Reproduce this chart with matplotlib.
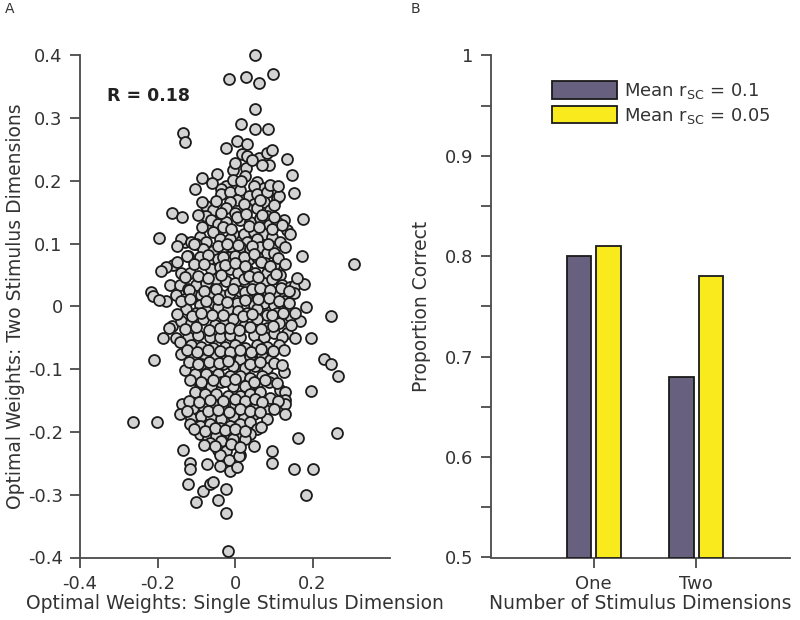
import matplotlib
matplotlib.use("Agg")
import matplotlib.pyplot as plt
from matplotlib.patches import Patch
from matplotlib.ticker import MultipleLocator

plt.rcParams['font.family'] = ['DejaVu Sans']
plt.rcParams['axes.unicode_minus'] = False
plt.rcParams['mathtext.fontset'] = 'dejavusans'

# ---------------- Panel A data ----------------
w_single = [
    # top outliers
    0.052, -0.015, 0.028, 0.061, 0.097, 0.052, 0.015, 0.052, 0.085, -0.134, -0.128,
    # 0.20 .. 0.26
    -0.023, 0.006, 0.030, 0.017, 0.032, 0.061, 0.082, 0.095, 0.134, 0.089, 0.029,
    -0.004, -0.046, 0.147, 0.026, 0.056, 0.074, 0.048, -0.022, -0.004, -0.035, -0.084,
    # 0.15 .. 0.20
    -0.035, -0.013, 0.013, 0.035, 0.056, 0.082, 0.108, 0.113, 0.004, -0.013, 0.048,
    0.074, -0.074, -0.056, -0.022, 0.000, 0.030, 0.056, 0.091, 0.082, 0.126, 0.152,
    -0.102, -0.162, -0.136,
    # 0.10 .. 0.15
    -0.074, -0.061, -0.043, -0.022, 0.013, 0.039, 0.065, 0.087, 0.108, 0.134, 0.143,
    0.176, -0.056, -0.030, -0.004, 0.022, 0.048, 0.074, 0.095, 0.117, -0.091, -0.074,
    -0.039, -0.013, 0.030, 0.056, -0.130, -0.195, -0.139, -0.113, -0.100,
    # 0.05 .. 0.10
    -0.082, -0.056, -0.030, -0.004, 0.013, 0.039, 0.065, 0.082, 0.100, -0.091, -0.121,
    -0.069, -0.043, -0.013, 0.013, 0.035, 0.056, 0.078, 0.100, 0.173, -0.061, -0.039,
    -0.013, 0.009, 0.030, 0.052, 0.082, 0.117, -0.139, -0.160, -0.177, -0.190, -0.117,
    0.307,
    # 0.00 .. 0.05
    -0.169, -0.143, -0.121, -0.100, -0.074, -0.048, -0.022, 0.000, 0.022, 0.048, 0.074,
    0.095, 0.121, 0.143, 0.156, 0.179, -0.216, -0.212, -0.177, -0.152, -0.130, -0.108,
    -0.087, -0.061, -0.035, -0.013, 0.013, 0.035, 0.056, 0.082, 0.104, 0.130, 0.152,
    -0.091, -0.056, 0.004, 0.048, 0.074, 0.100, 0.126,
    # -0.05 .. 0.00
    -0.126, -0.100, -0.074, -0.043, -0.017, 0.009, 0.030, 0.056, 0.082, 0.108, 0.143,
    0.169, 0.184, 0.247, -0.162, -0.139, -0.113, -0.082, -0.052, -0.026, -0.004, 0.022,
    0.056, 0.082, 0.113, 0.134, 0.156, -0.152, -0.121, -0.095, -0.065, -0.039, -0.013,
    0.013, 0.048, 0.074, 0.100, 0.121, -0.186, 0.195,
    # -0.10 .. -0.05
    -0.143, -0.113, -0.087, -0.056, -0.026, 0.000, 0.026, 0.056, 0.082, 0.113, 0.126,
    -0.139, -0.108, -0.078, -0.048, -0.013, 0.013, 0.039, 0.069, 0.091, -0.087, -0.056,
    -0.030, -0.004, 0.026, 0.052, 0.082, -0.130, -0.208, 0.229, 0.247, 0.266,
    # -0.15 .. -0.10
    -0.104, -0.074, -0.043, -0.013, 0.013, 0.039, 0.069, 0.095, 0.126, -0.091, -0.061,
    -0.035, -0.004, 0.026, 0.056, 0.087, 0.117, 0.130, -0.104, -0.078, -0.048, -0.017,
    0.013, 0.039, 0.065, 0.091, 0.130, 0.197,
    # -0.20 .. -0.15
    -0.136, -0.108, -0.082, -0.056, -0.030, 0.000, 0.026, 0.052, 0.078, 0.130, -0.143,
    -0.113, -0.087, -0.061, -0.035, -0.004, 0.022, 0.048, 0.130, -0.117, -0.091, -0.065,
    -0.039, -0.013, 0.013, 0.039, 0.082, 0.056, -0.264, -0.202, 0.264,
    # -0.25 .. -0.20
    -0.091, -0.069, -0.048, -0.013, 0.013, 0.039, -0.065, -0.035, -0.004, 0.026, -0.043,
    -0.022, 0.013, 0.050, 0.095, 0.163, -0.134, -0.039, 0.095, -0.117, -0.015,
    # lower tail
    -0.115, -0.121, -0.100, -0.082, -0.065, -0.056, -0.043, -0.022, -0.019, -0.039, -0.013,
    0.006, 0.011, -0.072, -0.023, 0.152, 0.202, 0.184,
]
w_two = [
    # top outliers
    0.400, 0.362, 0.365, 0.356, 0.370, 0.315, 0.290, 0.283, 0.283, 0.277, 0.262,
    # 0.20 .. 0.26
    0.252, 0.264, 0.258, 0.242, 0.239, 0.236, 0.245, 0.249, 0.235, 0.226, 0.220,
    0.218, 0.211, 0.209, 0.208, 0.198, 0.189, 0.192, 0.192, 0.201, 0.187, 0.204,
    # 0.15 .. 0.20
    0.179, 0.182, 0.185, 0.176, 0.179, 0.182, 0.173, 0.176, 0.170, 0.167, 0.163,
    0.167, 0.160, 0.154, 0.157, 0.148, 0.157, 0.157, 0.154, 0.144, 0.138, 0.180,
    0.187, 0.149, 0.143,
    # 0.10 .. 0.15
    0.144, 0.138, 0.132, 0.135, 0.138, 0.135, 0.141, 0.129, 0.135, 0.122, 0.116,
    0.139, 0.119, 0.126, 0.116, 0.116, 0.119, 0.116, 0.110, 0.103, 0.110, 0.103,
    0.107, 0.107, 0.103, 0.107, 0.103, 0.109, 0.107, 0.103, 0.100,
    # 0.05 .. 0.10
    0.091, 0.088, 0.094, 0.091, 0.094, 0.091, 0.094, 0.085, 0.085, 0.078, 0.081,
    0.072, 0.075, 0.078, 0.072, 0.075, 0.078, 0.069, 0.066, 0.081, 0.059, 0.062,
    0.059, 0.053, 0.059, 0.053, 0.053, 0.050, 0.053, 0.066, 0.062, 0.056, 0.053,
    0.067,
    # 0.00 .. 0.05
    0.034, 0.034, 0.028, 0.034, 0.037, 0.044, 0.040, 0.037, 0.044, 0.040, 0.037,
    0.044, 0.034, 0.031, 0.034, 0.035, 0.023, 0.016, 0.009, 0.018, 0.012, 0.018,
    0.018, 0.021, 0.018, 0.021, 0.025, 0.021, 0.018, 0.025, 0.018, 0.018, 0.021,
    0.003, 0.006, 0.006, 0.003, 0.006, 0.003, 0.009,
    # -0.05 .. 0.00
    -0.004, -0.010, -0.007, -0.001, -0.004, -0.007, -0.010, -0.004, -0.013, -0.010, -0.016,
    -0.023, -0.001, -0.015, -0.032, -0.023, -0.026, -0.020, -0.029, -0.026, -0.020, -0.032,
    -0.020, -0.035, -0.026, -0.042, -0.051, -0.051, -0.048, -0.045, -0.048, -0.048, -0.045,
    -0.048, -0.045, -0.048, -0.042, -0.048, -0.050, -0.050,
    # -0.10 .. -0.05
    -0.057, -0.061, -0.064, -0.067, -0.064, -0.061, -0.067, -0.061, -0.064, -0.061, -0.070,
    -0.076, -0.079, -0.083, -0.079, -0.076, -0.083, -0.079, -0.079, -0.086, -0.092, -0.095,
    -0.092, -0.095, -0.098, -0.095, -0.098, -0.102, -0.085, -0.084, -0.091, -0.111,
    # -0.15 .. -0.10
    -0.108, -0.108, -0.108, -0.111, -0.111, -0.114, -0.111, -0.114, -0.105, -0.124, -0.127,
    -0.121, -0.127, -0.127, -0.124, -0.121, -0.133, -0.136, -0.136, -0.139, -0.139, -0.143,
    -0.143, -0.139, -0.136, -0.146, -0.149, -0.135,
    # -0.20 .. -0.15
    -0.155, -0.162, -0.158, -0.155, -0.162, -0.155, -0.158, -0.162, -0.165, -0.155, -0.171,
    -0.177, -0.174, -0.177, -0.180, -0.174, -0.177, -0.171, -0.171, -0.187, -0.190, -0.187,
    -0.193, -0.190, -0.187, -0.184, -0.180, -0.196, -0.184, -0.184, -0.201,
    # -0.25 .. -0.20
    -0.203, -0.209, -0.206, -0.203, -0.206, -0.203, -0.218, -0.215, -0.212, -0.212, -0.228,
    -0.231, -0.237, -0.223, -0.230, -0.210, -0.228, -0.237, -0.249, -0.250, -0.244,
    # lower tail
    -0.259, -0.283, -0.312, -0.294, -0.283, -0.280, -0.308, -0.329, -0.389, -0.255, -0.262,
    -0.256, -0.238, -0.251, -0.291, -0.259, -0.259, -0.300,
]

# extra points of the densely overlapped core (hidden partly behind others)
core_single = [
    0.000, 0.045, 0.070,
    -0.060, 0.015, 0.090, 0.110,
    -0.085, -0.048, 0.022, 0.065, 0.100,
    -0.095, -0.035, 0.005, 0.028, 0.070, 0.100,
    -0.085, -0.010, 0.035, 0.062, 0.095, 0.120,
    -0.150, -0.105, -0.045, -0.020, 0.008, 0.045, 0.085, 0.130,
    -0.125, -0.070, -0.030, 0.000, 0.022, 0.048, 0.110,
    -0.150, -0.105, -0.080, -0.025, 0.000, 0.025, 0.068, 0.090, 0.130,
    -0.130, -0.095, -0.070, -0.035, 0.035, 0.060, 0.105, 0.160,
    -0.120, -0.080, -0.050, -0.005, 0.025, 0.045, 0.065, 0.090, 0.118, 0.140,
    -0.195, -0.140, -0.115, -0.075, -0.045, -0.020, 0.025, 0.060, 0.088, 0.113, 0.140,
    -0.150, -0.112, -0.087, -0.060, -0.030, 0.020, 0.045, 0.095, 0.125, 0.155,
    -0.170, -0.128, -0.100, -0.068, -0.040, -0.013, 0.010, 0.038, 0.068, 0.097, 0.145,
    -0.125, -0.098, -0.070, -0.040, -0.012, 0.013, 0.040, 0.068, 0.097,
    -0.120, -0.095, -0.068, -0.042, -0.017, 0.038, 0.065, 0.100, 0.120,
    -0.115, -0.088, -0.058, -0.025, 0.000, 0.050, 0.078, 0.108,
    -0.120, -0.092, -0.065, -0.032, 0.000, 0.026, 0.052, 0.070, 0.110,
    -0.125, -0.070, -0.045, -0.015, 0.012, 0.038, 0.065, 0.100,
    -0.105, -0.078, -0.052, -0.026, 0.000, 0.025, 0.068,
    -0.080, -0.052, -0.010, 0.012,
]
core_two = [
    0.229, 0.233, 0.225,
    0.196, 0.199, 0.194, 0.191,
    0.166, 0.168, 0.163, 0.170, 0.162,
    0.146, 0.148, 0.143, 0.147, 0.145, 0.142,
    0.126, 0.124, 0.128, 0.127, 0.123, 0.129,
    0.097, 0.099, 0.097, 0.100, 0.098, 0.096, 0.099, 0.094,
    0.080, 0.082, 0.079, 0.081, 0.078, 0.083, 0.077,
    0.070, 0.067, 0.068, 0.066, 0.069, 0.065, 0.070, 0.064, 0.068,
    0.047, 0.049, 0.046, 0.050, 0.048, 0.047, 0.051, 0.045,
    0.026, 0.024, 0.027, 0.028, 0.023, 0.027, 0.030, 0.026, 0.029, 0.024,
    0.010, 0.008, 0.011, 0.009, 0.012, 0.007, 0.010, 0.011, 0.013, 0.009, 0.006,
    -0.012, -0.015, -0.011, -0.014, -0.013, -0.016, -0.012, -0.014, -0.011, -0.010,
    -0.034, -0.036, -0.033, -0.037, -0.035, -0.034, -0.038, -0.033, -0.036, -0.032, -0.030,
    -0.070, -0.072, -0.069, -0.071, -0.073, -0.070, -0.072, -0.068, -0.071,
    -0.089, -0.091, -0.088, -0.090, -0.087, -0.092, -0.089, -0.090, -0.094,
    -0.118, -0.120, -0.117, -0.119, -0.116, -0.121, -0.118, -0.122,
    -0.150, -0.152, -0.149, -0.151, -0.148, -0.150, -0.147, -0.153, -0.151,
    -0.166, -0.167, -0.165, -0.168, -0.164, -0.166, -0.169, -0.163,
    -0.196, -0.198, -0.194, -0.197, -0.195, -0.199, -0.192,
    -0.221, -0.223, -0.219, -0.224,
]
assert len(w_single) == len(w_two)
assert len(core_single) == len(core_two)
r_text = "R = 0.18"

x_ticks_a = [-0.4, -0.2, 0, 0.2]
x_ticklabels_a = ["-0.4", "-0.2", "0", "0.2"]
y_ticks_a = [0.4, 0.3, 0.2, 0.1, 0, -0.1, -0.2, -0.3, -0.4]
y_ticklabels_a = ["0.4", "0.3", "0.2", "0.1", "0", "-0.1", "-0.2", "-0.3", "-0.4"]

# ---------------- Panel B data ----------------
categories = ["One", "Two"]
prop_r10 = [0.80, 0.68]
prop_r05 = [0.81, 0.78]
legend_labels = ["Mean r$_{\\mathregular{SC}}$ = 0.1", "Mean r$_{\\mathregular{SC}}$ = 0.05"]
y_ticks_b = [0.5, 0.6, 0.7, 0.8, 0.9, 1.0]
y_ticklabels_b = ["0.5", "0.6", "0.7", "0.8", "0.9", "1"]

TXT = '#333333'
AX = '#4a4a4a'
C_DARK = '#67617f'
C_YEL = '#f8ea1d'
FS_TICK = 13
FS_LAB = 13.5

fig = plt.figure(figsize=(8, 6.2), dpi=100)

AX_BOTTOM = 1 - 557.5 / 620
AX_HEIGHT = 502.2 / 620

def style(ax):
    for s in ['top', 'right']:
        ax.spines[s].set_visible(False)
    for s in ['left', 'bottom']:
        ax.spines[s].set_color(AX)
        ax.spines[s].set_linewidth(1.3)
    ax.tick_params(which='both', direction='out', length=7.5, width=1.3, color=AX,
                   labelcolor=TXT, labelsize=FS_TICK)
    ax.tick_params(axis='x', which='both', pad=5)
    ax.tick_params(axis='y', which='both', pad=5)

# Panel A
axA = fig.add_axes([80/800, AX_BOTTOM, 310/800, AX_HEIGHT])
style(axA)
axA.scatter(w_single + core_single, w_two + core_two, s=62, facecolor='#d3d3d3',
            edgecolor='#1c1c1c', linewidths=1.3, zorder=3, clip_on=False)
axA.set_xlim(-0.4, 0.4)
axA.set_ylim(-0.4, 0.4)
axA.set_xticks(x_ticks_a)
axA.set_xticklabels(x_ticklabels_a)
axA.set_yticks(y_ticks_a)
axA.set_yticklabels(y_ticklabels_a)
axA.set_xlabel("Optimal Weights: Single Stimulus Dimension", fontsize=FS_LAB, color=TXT, labelpad=1)
axA.set_ylabel("Optimal Weights: Two Stimulus Dimensions", fontsize=FS_LAB, color=TXT, labelpad=2)
axA.text(-0.33, 0.335, r_text, fontsize=12.5, fontweight='bold', color='#222222',
         va='center', ha='left')

# Panel B
axB = fig.add_axes([490.7/800, AX_BOTTOM, 299.3/800, AX_HEIGHT])
style(axB)
xpos = list(range(1, len(categories) + 1))
bw = 0.24
off = 0.143
axB.bar([p - off for p in xpos], [v - 0.5 for v in prop_r10], width=bw, bottom=0.5,
        color=C_DARK, edgecolor='#1a1a1a', linewidth=1.3, zorder=3)
axB.bar([p + off for p in xpos], [v - 0.5 for v in prop_r05], width=bw, bottom=0.5,
        color=C_YEL, edgecolor='#1a1a1a', linewidth=1.3, zorder=3)
axB.set_xlim(0, 2.91)
axB.set_ylim(0.5, 1.0)
axB.set_xticks(xpos)
axB.set_xticklabels(categories)
axB.set_yticks(y_ticks_b)
axB.set_yticklabels(y_ticklabels_b)
axB.yaxis.set_minor_locator(MultipleLocator(0.05))
axB.set_xlabel("Number of Stimulus Dimensions", fontsize=FS_LAB, color=TXT, labelpad=1)
axB.set_ylabel("Proportion Correct", fontsize=FS_LAB, color=TXT, labelpad=10)

handles = [Patch(facecolor=C_DARK, edgecolor='#1a1a1a', linewidth=1.3),
           Patch(facecolor=C_YEL, edgecolor='#1a1a1a', linewidth=1.3)]
leg = axB.legend(handles, legend_labels, loc='upper left',
                 bbox_to_anchor=(552/800, 1-81/620), bbox_transform=fig.transFigure,
                 frameon=False, fontsize=13, handlelength=3.6, handleheight=1.1,
                 handletextpad=0.4, labelspacing=0.25, borderpad=0, borderaxespad=0)
for t in leg.get_texts():
    t.set_color(TXT)

fig.text(5/800, 1-9/620, "A", fontsize=10, color=TXT, va='center', ha='left')
fig.text(411/800, 1-9/620, "B", fontsize=10, color=TXT, va='center', ha='left')

fig.savefig("out.png", dpi=100)
